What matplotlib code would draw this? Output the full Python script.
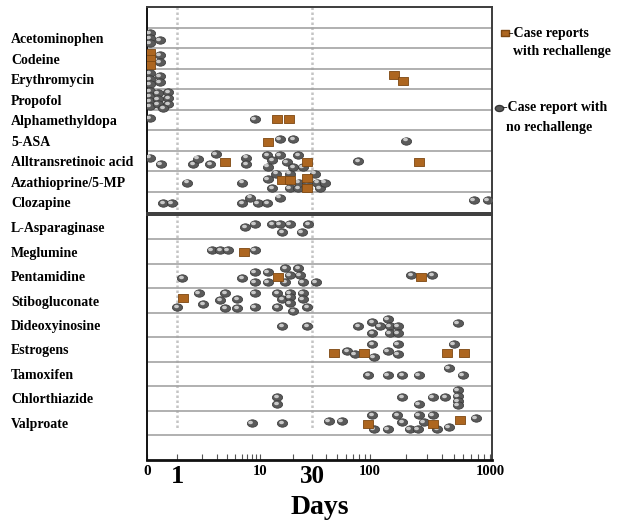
import numpy as np
import matplotlib
matplotlib.use('Agg')
import matplotlib.pyplot as plt
from matplotlib.path import Path
from matplotlib.transforms import Affine2D, ScaledTranslation
from matplotlib.lines import Line2D
from matplotlib.ticker import FixedLocator, NullFormatter

plt.rcParams['font.family'] = ['Liberation Serif', 'DejaVu Serif']
plt.rcParams['font.weight'] = 'bold'

# drugs of the upper box (first band of that box stays empty)
top_drugs = ['Acetominophen', 'Codeine', 'Erythromycin', 'Propofol', 'Alphamethyldopa',
             '5-ASA', 'Alltransretinoic acid', 'Azathioprine/5-MP', 'Clozapine']
# drugs of the lower box (last band stays empty)
bottom_drugs = ['L-Asparaginase', 'Meglumine', 'Pentamidine', 'Stibogluconate',
                'Dideoxyinosine', 'Estrogens', 'Tamoxifen', 'Chlorthiazide', 'Valproate']

# (days, lane inside the row) - lane > 0 means lower in the row
top_no_rechallenge = {
    'Acetominophen': ([0.47, 0.47, 0.47, 0.62], [-0.23, 0.0, 0.25, 0.1]),
    'Codeine': ([0.62, 0.62], [-0.16, 0.18]),
    'Erythromycin': ([0.47, 0.47, 0.47, 0.62, 0.62], [-0.28, 0.01, 0.26, -0.13, 0.16]),
    'Propofol': ([0.47, 0.47, 0.47, 0.47, 0.59, 0.59, 0.59, 0.78, 0.78, 0.78, 0.68],
                 [-0.4, -0.16, 0.09, 0.33, -0.3, -0.01, 0.23, -0.35, -0.06, 0.23, 0.43]),
    'Alphamethyldopa': ([0.47, 8.7], [-0.09, -0.04]),
    '5-ASA': ([15.2, 20, 200], [-0.06, -0.06, 0.0]),
    'Alltransretinoic acid': ([0.47, 0.64, 1.56, 1.79, 2.5, 2.95, 6.8, 6.8, 11.6, 12.9, 11.8,
                               15.2, 17.6, 22.2, 20, 24.6, 78],
                              [-0.18, 0.16, 0.16, -0.13, 0.16, -0.33, -0.18, 0.16, -0.28, -0.04,
                               0.26, -0.28, 0.06, -0.28, 0.3, 0.3, 0.01]),
    'Azathioprine/5-MP': ([1.32, 6.1, 11.8, 14.0, 18.7, 31.6, 12.9, 18.7, 22.2, 35, 22.6, 26.8, 33, 39],
                          [0.04, 0.04, -0.11, -0.4, -0.4, -0.4, 0.33, 0.33, 0.33, 0.33,
                           0.04, 0.04, 0.04, 0.04]),
    'Clozapine': ([0.68, 0.87, 6.1, 7.6, 9.4, 11.6, 15.2, 736, 960],
                  [0.06, 0.06, 0.06, -0.23, 0.06, 0.06, -0.23, -0.09, -0.09]),
}
top_rechallenge = {
    'Codeine': ([0.47, 0.47, 0.47], [-0.26, 0.04, 0.33]),
    'Erythromycin': ([158, 188], [-0.18, 0.11]),
    'Alphamethyldopa': ([14.3, 18.5], [-0.04, -0.04]),
    '5-ASA': ([11.8], [0.04]),
    'Alltransretinoic acid': ([3.8, 26.8, 256], [0.06, 0.06, 0.06]),
    'Azathioprine/5-MP': ([16, 18.7, 26.8, 26.8], [-0.06, -0.06, -0.2, 0.33]),
}
bottom_no_rechallenge = {
    'L-Asparaginase': ([6.6, 8.7, 12.9, 15.2, 18.7, 16, 24, 27.5],
                       [0.0, -0.13, -0.13, -0.13, -0.13, 0.2, 0.2, -0.13]),
    'Meglumine': ([2.64, 3.3, 4.1, 8.7], [-0.07, -0.07, -0.07, -0.07]),
    'Pentamidine': ([1.15, 6.1, 8.7, 8.7, 11.8, 11.8, 16.9, 22.2, 18.7, 23.1, 16.9, 24.6, 32.3, 220, 329],
                    [0.08, 0.08, -0.17, 0.24, -0.17, 0.24, -0.33, -0.33, -0.05, -0.05,
                     0.24, 0.24, 0.24, -0.05, -0.05]),
    'Stibogluconate': ([1.0, 1.84, 2.06, 3.8, 3.3, 3.8, 5.3, 5.3, 8.7, 8.7, 14.3, 14.3, 16,
                        18.7, 18.7, 18.7, 20, 24.6, 24.6, 26.8],
                       [0.26, -0.31, 0.14, -0.31, -0.02, 0.3, -0.07, 0.3, -0.31, 0.26, -0.31,
                        0.26, -0.07, -0.31, -0.15, 0.1, 0.43, -0.31, -0.07, 0.26]),
    'Dideoxyinosine': ([16, 26.8, 78, 104, 104, 121, 141, 146, 171, 146, 171, 541],
                       [0.04, 0.04, 0.04, -0.12, 0.33, 0.04, -0.25, 0.04, 0.04, 0.33, 0.33, -0.08]),
    'Estrogens': ([62, 73, 104, 108, 141, 171, 171, 501],
                  [0.06, 0.18, -0.22, 0.31, 0.06, -0.22, 0.18, -0.22]),
    'Tamoxifen': ([96, 141, 185, 256, 455, 595], [0.04, 0.04, 0.04, 0.04, -0.24, 0.04]),
    'Chlorthiazide': ([14.3, 14.3, 185, 256, 335, 422, 541, 541, 541, 541],
                      [-0.06, 0.23, -0.06, 0.23, -0.06, -0.06, -0.34, -0.1, 0.11, 0.27]),
    'Valproate': ([8.0, 16, 42.4, 55.6, 104, 108, 141, 168, 185, 215, 251, 256, 282, 335, 362, 455, 764],
                  [0.01, 0.01, -0.07, -0.07, -0.32, 0.25, 0.25, -0.32, -0.03, 0.25, 0.25,
                   -0.32, -0.03, -0.32, 0.25, 0.17, -0.2]),
}
bottom_rechallenge = {
    'Meglumine': ([6.4], [0.01]),
    'Pentamidine': ([14.6, 266], [0.04, 0.04]),
    'Stibogluconate': ([1.18], [-0.1]),
    'Estrogens': ([47, 88, 438, 606], [0.14, 0.14, 0.14, 0.14]),
    'Valproate': ([96, 335, 562], [0.05, 0.05, -0.11]),
}

tick_days = [0.44, 1, 10, 30, 100, 1000]
tick_labels = ['0', '1', '10', '30', '100', '1000']
tick_sizes = [11, 19, 10.5, 18, 10.5, 10.5]

# the day axis of the original is a hand drawn log axis, decades are not equally wide
decades = [-1, 0, 1, 2, 3, 4]
decade_pos = [-83, 0, 83, 193, 313, 433]


def fwd(x):
    return np.interp(np.log10(np.clip(x, 1e-9, None)), decades, decade_pos)


def inv(p):
    return 10 ** np.interp(p, decade_pos, decades)


W, H = 621, 525
fig = plt.figure(figsize=(W / 100, H / 100), dpi=100)

ELLIPSE = Path.unit_circle().transformed(Affine2D().scale(1.0, 0.72))
RECT = Path([(-0.5, -0.38), (0.5, -0.38), (0.5, 0.38), (-0.5, 0.38), (-0.5, -0.38)],
            [Path.MOVETO, Path.LINETO, Path.LINETO, Path.LINETO, Path.CLOSEPOLY])
SPHERE = '#5a5a5a'
BROWN = '#ad6620'
shine = ScaledTranslation(-1.5 / 100, 1.2 / 100, fig.dpi_scale_trans)


def panel(box, drugs, spheres, squares, first_row, line_top):
    ax = fig.add_axes([box[0] / W, 1 - box[3] / H, (box[2] - box[0]) / W, (box[3] - box[1]) / H])
    ax.set_xscale('function', functions=(fwd, inv))
    ax.set_xlim(0.435, 1040)
    ax.set_ylim(9.5, -0.5)

    rows = range(first_row, first_row + len(drugs))
    ax.set_yticks(list(rows), labels=drugs, fontsize=10, fontweight='bold')
    ax.set_yticks(np.arange(0.5, 9.5, 1), minor=True)
    ax.tick_params(axis='y', which='both', length=0, pad=(box[0] - 11) * 0.72)
    for lbl in ax.get_yticklabels():
        lbl.set_ha('left')
    ax.grid(which='minor', axis='y', color='#a3a3a3', lw=1.2)

    ax.vlines([1, 30], -0.5, line_top, colors='#c4c4c4', lw=1.8, linestyles=(0, (1, 1)), zorder=1)

    for row, drug in zip(rows, drugs):
        if drug in spheres:
            days, lanes = spheres[drug]
            y = row + np.array(lanes)
            ax.scatter(days, y, marker=ELLIPSE, s=55, c=SPHERE, edgecolors='#353535',
                       linewidths=0.5, zorder=3)
            ax.scatter(days, y, marker=ELLIPSE, s=12, c='#c9c9c9', linewidths=0, zorder=4,
                       transform=ax.transData + shine)
        if drug in squares:
            days, lanes = squares[drug]
            ax.scatter(days, row + np.array(lanes), marker=RECT, s=46, c=BROWN,
                       edgecolors='#7d4711', linewidths=0.6, zorder=5)

    for side in ['left', 'right', 'top', 'bottom']:
        ax.spines[side].set_color('#3c3c3c')
        ax.spines[side].set_linewidth(1.4)
    ax.spines['left'].set_color('#111111')
    return ax


top_ax = panel((147, 7.3, 492, 212.5), top_drugs, top_no_rechallenge, top_rechallenge, 1, 9.5)
top_ax.tick_params(axis='x', which='both', bottom=False, labelbottom=False)

bot_ax = panel((147, 215, 492, 459.5), bottom_drugs, bottom_no_rechallenge, bottom_rechallenge, 0, 8.3)
bot_ax.spines['bottom'].set_linewidth(2)
bot_ax.spines['bottom'].set_color('#111111')
bot_ax.xaxis.set_major_locator(FixedLocator(tick_days))
bot_ax.set_xticklabels(tick_labels)
minor_days = [m * d for d in (1, 10, 100) for m in range(2, 10)]
bot_ax.xaxis.set_minor_locator(FixedLocator(minor_days))
bot_ax.xaxis.set_minor_formatter(NullFormatter())
bot_ax.tick_params(axis='x', which='both', direction='in', length=4.5, width=0.8,
                   color='#555555', pad=4)
for lbl, size in zip(bot_ax.get_xticklabels(), tick_sizes):
    lbl.set_fontsize(size)
    lbl.set_fontweight('bold')

fig.text(320 / W, 1 - 507 / H, 'Days', ha='center', va='center', fontsize=20, fontweight='bold')

# legend on the right
fig.add_artist(Line2D([505 / W], [1 - 33 / H], transform=fig.transFigure, marker=RECT,
                      markersize=6, color=BROWN, markeredgecolor='#7d4711', lw=0))
fig.text(509 / W, 1 - 33 / H, '-Case reports', ha='left', va='center', fontsize=10, fontweight='bold')
fig.text(513 / W, 1 - 52 / H, 'with rechallenge', ha='left', va='center', fontsize=10, fontweight='bold')
fig.add_artist(Line2D([499 / W], [1 - 108 / H], transform=fig.transFigure, marker=ELLIPSE,
                      markersize=6, color=SPHERE, markeredgecolor='#353535', lw=0))
fig.text(503 / W, 1 - 108 / H, '-Case report with', ha='left', va='center', fontsize=10, fontweight='bold')
fig.text(506 / W, 1 - 128 / H, 'no rechallenge', ha='left', va='center', fontsize=10, fontweight='bold')

fig.savefig('out.png', dpi=100)
